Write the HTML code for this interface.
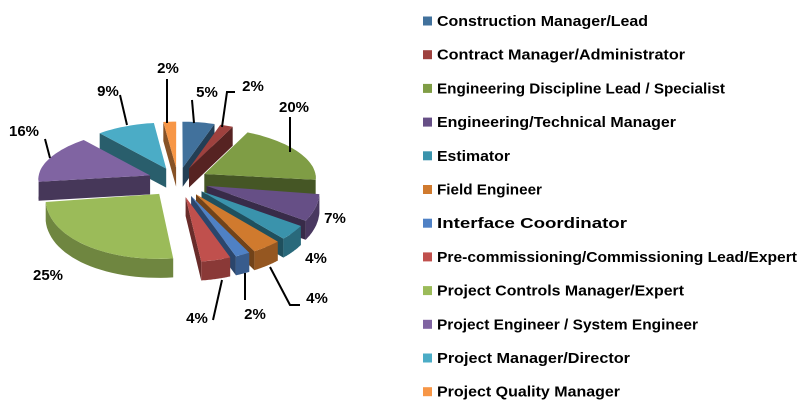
<!DOCTYPE html>
<html><head><meta charset="utf-8"><style>
html,body{margin:0;padding:0;background:#fff;}
svg{display:block;font-family:"Liberation Sans",sans-serif;font-weight:bold;}
</style></head><body>
<svg id="chart" width="810" height="410" viewBox="0 0 810 410">
<g id="pie"></g>
<g id="labels"></g>
<g id="legend"></g>
</svg>
<script>
const categories = ["Construction Manager/Lead","Contract Manager/Administrator","Engineering Discipline Lead / Specialist","Engineering/Technical Manager","Estimator","Field Engineer","Interface Coordinator","Pre-commissioning/Commissioning Lead/Expert","Project Controls Manager/Expert","Project Engineer / System Engineer","Project Manager/Director","Project Quality Manager"];
const values = [5,2,20,7,4,4,2,4,25,16,9,2];
const colors = ["#41719C","#9E413E","#7F9D45","#664F86","#3A93AC","#D07A2E","#4F81C5","#C0504D","#9BBB59","#8064A2","#4BACC6","#F79646"];
const legendWidths = [211,248,288,239,73,105,190,360,247,261,193,183];
const labelPos = [[207,97],[253,91],[294,112],[335,223],[316,263],[317,303],[255,319],[197,323],[48,280],[24,136],[108,96],[168,73]];
const leaders = [[[192,100],[194,123]],[[235,92],[227,92],[222,127]],[[290,117],[290,152]],null,null,[[300,305],[290,305],[270,267]],[[245,300],[245,273]],[[213,320],[222,280]],null,[[45,139],[50,158]],[[120,95],[127,125]],[[167,79],[167,123]]];

const NS="http://www.w3.org/2000/svg";
const cx=178, cy=180, rx=112, ryB=46, ryF=65, depth=19, expl=0.27;
function proj(u,v){return [cx+rx*u*(1-0.06*v), cy-v*(v>0?ryB:ryF)];}
function pt(a,r,ou,ov){return proj(ou+r*Math.sin(a),ov+r*Math.cos(a));}
function dark(hex,f){const n=parseInt(hex.slice(1),16);const r=(n>>16)*f|0,g=((n>>8)&255)*f|0,b=(n&255)*f|0;return "rgb("+r+","+g+","+b+")";}
function poly(pts){return "M"+pts.map(p=>p[0].toFixed(1)+","+p[1].toFixed(1)).join("L")+"Z";}
function add(par,tag,attrs){const e=document.createElementNS(NS,tag);for(const k in attrs)e.setAttribute(k,attrs[k]);par.appendChild(e);return e;}

const total=values.reduce((s,v)=>s+v,0);
const pie=document.getElementById('pie');
let cum=0;const slices=[];
values.forEach((v,i)=>{const a0=cum/total*2*Math.PI;cum+=v;const a1=cum/total*2*Math.PI;const m=(a0+a1)/2;
 slices.push({i,a0,a1,m,ou:expl*Math.sin(m),ov:expl*Math.cos(m)});});
slices.slice().sort((p,q)=>q.ov-p.ov).forEach(s=>{
 const g=add(pie,'g',{});
 
 
 const col=colors[s.i], side=dark(col,0.55);
 const c=proj(s.ou,s.ov);
 const down=p=>[p[0],p[1]+depth];
 if(Math.sin(s.a0)<0){const p=pt(s.a0,1,s.ou,s.ov);const w=add(g,'path',{d:poly([c,p,down(p),down(c)]),fill:side});}
 if(Math.sin(s.a1)>0){const p=pt(s.a1,1,s.ou,s.ov);const w=add(g,'path',{d:poly([c,p,down(p),down(c)]),fill:side});}
 const lo=Math.max(s.a0,Math.PI/2), hi=Math.min(s.a1,3*Math.PI/2);
 if(hi>lo){const top=[];const n=30;for(let k=0;k<=n;k++){top.push(pt(lo+(hi-lo)*k/n,1,s.ou,s.ov));}
  const w=add(g,'path',{d:poly(top.concat(top.slice().reverse().map(down))),fill:dark(col,0.72)});}
 const pts=[c];const n=Math.max(4,Math.ceil((s.a1-s.a0)*30));for(let k=0;k<=n;k++)pts.push(pt(s.a0+(s.a1-s.a0)*k/n,1,s.ou,s.ov));
 const t=add(g,'path',{d:poly(pts),fill:col});
});

const lab=document.getElementById('labels');
values.forEach((v,i)=>{
 if(leaders[i]){const l=add(lab,'polyline',{points:leaders[i].map(p=>p.join(',')).join(' '),fill:'none',stroke:'#000','stroke-width':2});
  }
 const t=add(lab,'text',{x:labelPos[i][0],y:labelPos[i][1],'text-anchor':'middle','font-size':15,fill:'#000'});
 
 t.textContent=Math.round(v/total*100)+'%';
});

const leg=document.getElementById('legend');
categories.forEach((c,i)=>{
 const y=21+i*33.7;
 const g=add(leg,'g',{});
 
 
 const r=add(g,'rect',{x:423,y:y-4.5,width:9,height:9,fill:colors[i]});
 
 const t=add(g,'text',{x:437,y:y+5,'font-size':14.5,fill:'#000',textLength:legendWidths[i],lengthAdjust:'spacingAndGlyphs'});
 
 t.textContent=c;
});
</script>
</body></html>
